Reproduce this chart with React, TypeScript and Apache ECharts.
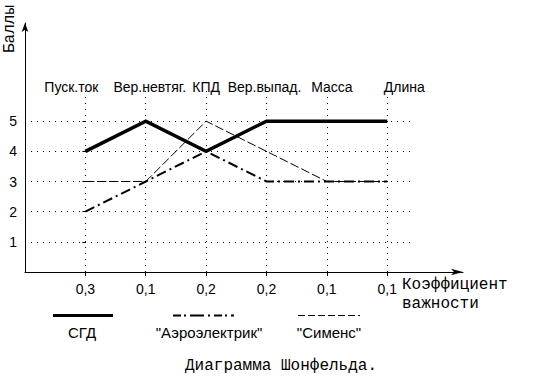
import React, { useEffect, useRef } from 'react';
import * as echarts from 'echarts';

// ---- data ----
const criteria = ['Пуск.ток', 'Вер.невтяг.', 'КПД', 'Вер.выпад.', 'Масса', 'Длина'];
const weights = ['0,3', '0,1', '0,2', '0,2', '0,1', '0,1'];
const seriesNames = ['СГД', '"Аэроэлектрик"', '"Сименс"'];
const sgd = [4, 5, 4, 5, 5, 5];
const aero = [2, 3, 4, 3, 3, 3];
const siemens = [3, 3, 5, 4, 3, 3];
const yLabels = [1, 2, 3, 4, 5];

const SANS = 'Liberation Sans';
const MONO = 'Courier New, Liberation Mono, monospace';

export default function App() {
  const ref = useRef<HTMLDivElement>(null);

  useEffect(() => {
    if (!ref.current) return;
    const chart = echarts.init(ref.current, undefined, { renderer: 'svg' });
    const dotted = { type: [1, 5] as number[], color: '#000', width: 1 };
    const toPairs = (arr: number[]) => arr.map((v, i) => [i, v]);

    const styles = [
      { color: '#000', width: 3.5, type: 'solid' as any },
      { color: '#000', width: 2, type: [10, 4, 2, 4] },
      { color: '#000', width: 1, type: [9, 3] },
    ];
    const dataSets = [siemens, aero, sgd];
    const styleOrder = [2, 1, 0];

    const gridSeries = {
      type: 'line',
      name: 'grid',
      xAxisIndex: 0,
      yAxisIndex: 0,
      data: [] as any[],
      silent: true,
      z: 1,
      markLine: {
        silent: true,
        symbol: ['none', 'none'],
        label: { show: false },
        lineStyle: dotted,
        data: [
          ...yLabels.map((v) => ({ yAxis: v })),
          ...criteria.map((_, i) => ({ xAxis: i })),
        ],
      },
    };

    chart.setOption({
      animation: false,
      backgroundColor: '#fff',
      grid: [
        { left: 25, top: 91, width: 390, height: 181 },
        { left: 25, top: 23, width: 438, height: 249 },
      ],
      xAxis: [
        {
          gridIndex: 0,
          type: 'value',
          min: -1,
          max: 5.46,
          interval: 1,
          axisLine: { show: false },
          axisTick: { show: true, length: 4, customValues: [0, 1, 2, 3, 4, 5], lineStyle: { color: '#000' } },
          axisLabel: {
            customValues: [0, 1, 2, 3, 4, 5],
            formatter: (v: number) => (Number.isInteger(v) && v >= 0 && v < weights.length ? weights[v] : ''),
            margin: 10,
            color: '#000',
            fontFamily: SANS,
            fontSize: 14,
          },
          splitLine: { show: false },
        },
        {
          gridIndex: 1,
          type: 'value',
          min: 0,
          max: 1,
          axisLine: { show: true, symbol: ['none', 'arrow'], symbolSize: [5, 12], lineStyle: { color: '#000', width: 1 } },
          axisTick: { show: false },
          axisLabel: { show: false },
          splitLine: { show: false },
        },
      ],
      yAxis: [
        {
          gridIndex: 0,
          type: 'value',
          min: 0,
          max: 6,
          interval: 1,
          axisLine: { show: false },
          axisTick: { show: true, length: 3, customValues: yLabels, lineStyle: { color: '#000' } },
          axisLabel: {
            customValues: yLabels,
            formatter: (v: number) => (yLabels.indexOf(v) >= 0 ? String(v) : ''),
            margin: 8,
            color: '#000',
            fontFamily: SANS,
            fontSize: 14,
          },
          splitLine: { show: false },
        },
        {
          gridIndex: 1,
          type: 'value',
          min: 0,
          max: 1,
          axisLine: { show: true, symbol: ['none', 'arrow'], symbolSize: [5, 9], lineStyle: { color: '#000', width: 1 } },
          axisTick: { show: false },
          axisLabel: { show: false },
          splitLine: { show: false },
        },
      ],
      series: [
        gridSeries,
        ...dataSets.map((d, k) => ({
          type: 'line',
          name: seriesNames[styleOrder[k]],
          xAxisIndex: 0,
          yAxisIndex: 0,
          data: toPairs(d),
          symbol: 'none',
          z: 3 + k,
          lineStyle: { ...styles[styleOrder[k]], cap: 'butt', join: 'miter' },
        })),
      ],
    });

    const textStyle = (text: string, family: string, size: number, align = 'center', vAlign = 'middle', extra: any = {}) => ({
      text,
      fontFamily: family,
      fontSize: size,
      fill: '#000',
      align,
      verticalAlign: vAlign,
      textAlign: align,
      textVerticalAlign: vAlign,
      ...extra,
    });

    // category captions above the plot, placed from axis pixel positions
    const labelShift = [-14, 4, 0, -2, 5, 17];
    const topLabels = criteria.map((c, i) => {
      const px = chart.convertToPixel({ xAxisIndex: 0 }, i) as number;
      return { type: 'text', x: px + labelShift[i], y: 87, style: textStyle(c, SANS, 14) };
    });

    const legendSpans = [[53, 113], [173, 234], [298, 360]];
    const legendTextX = [82, 209, 329];
    const legendDash = [null, [8, 3, 2, 4, 14, 4, 2, 4], [7, 3]];
    const legendWidth = [3, 2, 1];
    const legendItems: any[] = [];
    seriesNames.forEach((n, i) => {
      legendItems.push({
        type: 'line',
        shape: { x1: legendSpans[i][0], y1: 315.5, x2: legendSpans[i][1], y2: 315.5 },
        style: { stroke: '#000', lineWidth: legendWidth[i], lineDash: legendDash[i] },
      });
      legendItems.push({ type: 'text', x: legendTextX[i], y: 332, style: textStyle(n, SANS, 15) });
    });

    chart.setOption({
      graphic: [
        ...topLabels,
        ...legendItems,
        { type: 'text', x: 10, y: 29, rotation: Math.PI / 2, style: textStyle('Баллы', MONO, 16) },
        { type: 'text', x: 402, y: 275, style: textStyle('Коэффициент\nважности', MONO, 16, 'left', 'top', { lineHeight: 19 }) },
        { type: 'text', x: 281, y: 366, style: textStyle('Диаграмма Шонфельда.', MONO, 16) },
      ],
    });

    return () => chart.dispose();
  }, []);

  return <div ref={ref} style={{ position: 'fixed', left: 0, top: 0, width: 546, height: 389 }} />;
}
